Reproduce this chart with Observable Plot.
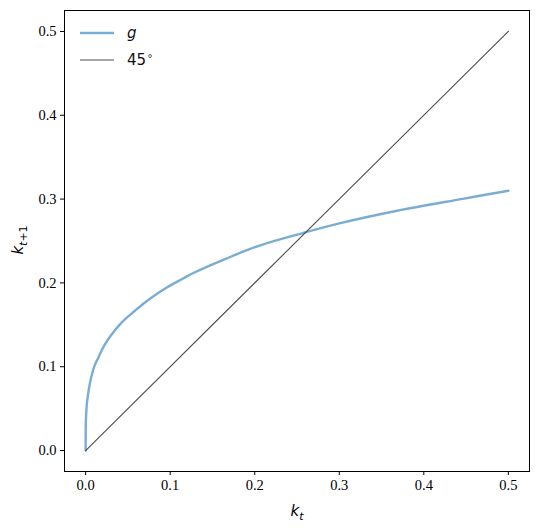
<!DOCTYPE html>
<html>
<head>
<meta charset="utf-8">
<script src="https://cdn.jsdelivr.net/npm/d3@7"></script>
<script src="https://cdn.jsdelivr.net/npm/@observablehq/plot@0.6"></script>
<style>
  html, body { margin: 0; padding: 0; background: white; }
  #wrap { position: relative; width: 539px; height: 531px; }
  #legend { position: absolute; left: 79px; top: 19px; font-family: 'DejaVu Sans', sans-serif; font-size: 15px; color: #111; }
  #legend .row { display: flex; align-items: center; height: 27px; }
  #legend svg { margin-right: 12px; }
</style>
</head>
<body>
<div id="wrap"></div>
<script>
// curve g
const kValues = [0, 0.0001, 0.0004, 0.0013, 0.0027, 0.005, 0.0075, 0.0105, 0.0155, 0.0216, 0.0296, 0.0414, 0.0532, 0.0669, 0.0765, 0.096, 0.1158, 0.1268, 0.1663, 0.2057, 0.257, 0.30, 0.367, 0.446, 0.5];
const gValues = [0, 0.025, 0.038, 0.054, 0.066, 0.080, 0.091, 0.101, 0.112, 0.1245, 0.137, 0.1515, 0.1625, 0.174, 0.1815, 0.1945, 0.2055, 0.2115, 0.229, 0.2445, 0.2595, 0.271, 0.2858, 0.3003, 0.31];
// 45 degree line
const diagK = [0, 0.5];
const diagY = [0, 0.5];
const xTicks = [0, 0.1, 0.2, 0.3, 0.4, 0.5];
const yTicks = [0, 0.1, 0.2, 0.3, 0.4, 0.5];
const seriesLabels = ["g", "45"];

const gData = kValues.map((k, i) => ({k, y: gValues[i]}));
const diagData = diagK.map((k, i) => ({k, y: diagY[i]}));

const blue = "#1f77b4";
const serif = "'Liberation Serif', 'Times New Roman', 'DejaVu Serif', serif";

const chart = Plot.plot({
  width: 539,
  height: 531,
  marginLeft: 64,
  marginRight: 10,
  marginTop: 10,
  marginBottom: 60,
  style: { fontFamily: serif, fontSize: "14px", background: "white", color: "black" },
  x: { domain: [-0.025, 0.525], ticks: xTicks, tickFormat: d3.format(".1f"), label: null, tickSize: 4, tickPadding: 4 },
  y: { domain: [-0.025, 0.525], ticks: yTicks, tickFormat: d3.format(".1f"), label: null, tickSize: 4, tickPadding: 4 },
  marks: [
    Plot.line(gData, { x: "k", y: "y", stroke: blue, strokeOpacity: 0.6, strokeWidth: 2.4, curve: "catmull-rom" }),
    Plot.line(diagData, { x: "k", y: "y", stroke: "#3a3a3a", strokeOpacity: 0.9, strokeWidth: 1.1 }),
    Plot.frame({ stroke: "black", strokeWidth: 1 })
  ]
});

const wrap = document.getElementById("wrap");
wrap.appendChild(chart);

const svg = d3.select(chart);
svg.selectAll("text").style("font-family", serif).style("font-size", "14.5px");

// axis labels with subscripts
const xl = svg.append("text")
  .attr("x", 297).attr("y", 516)
  .attr("text-anchor", "middle")
  .style("font-family", "'DejaVu Sans', sans-serif").style("font-size", "15px");
xl.append("tspan").style("font-style", "italic").text("k");
xl.append("tspan").attr("dy", 4).style("font-size", "11px").style("font-style", "italic").text("t");

const yl = svg.append("text")
  .attr("transform", "translate(23,240) rotate(-90)")
  .attr("text-anchor", "middle")
  .style("font-family", "'DejaVu Sans', sans-serif").style("font-size", "15px");
yl.append("tspan").style("font-style", "italic").text("k");
yl.append("tspan").attr("dy", 4).style("font-size", "11px").style("font-style", "italic").text("t");
yl.append("tspan").style("font-size", "11px").text("+1");

// legend
const legend = document.createElement("div");
legend.id = "legend";
const styles = [
  { stroke: blue, opacity: 0.6, width: 2.4, italic: true, sup: "" },
  { stroke: "#3a3a3a", opacity: 0.9, width: 1.1, italic: false, sup: "<sup style='font-size:10px;vertical-align:6px;margin-left:1px'>∘</sup>" }
];
seriesLabels.forEach((lab, i) => {
  const row = document.createElement("div");
  row.className = "row";
  const s = styles[i];
  row.innerHTML = `<svg width="36" height="10"><line x1="1" x2="35" y1="5" y2="5" stroke="${s.stroke}" stroke-opacity="${s.opacity}" stroke-width="${s.width}"/></svg><span style="font-style:${s.italic ? "italic" : "normal"}">${lab}${s.sup}</span>`;
  legend.appendChild(row);
});
wrap.appendChild(legend);
</script>
</body>
</html>
